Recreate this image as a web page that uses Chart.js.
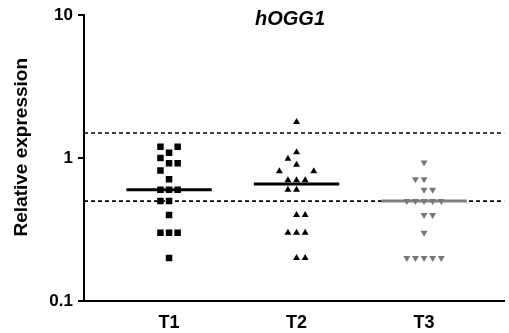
<!DOCTYPE html>
<html>
<head>
<meta charset="utf-8">
<script src="https://cdn.jsdelivr.net/npm/chart.js@4/dist/chart.umd.min.js"></script>
<style>
  html, body { margin: 0; padding: 0; background: #fff; }
  #wrap { width: 509px; height: 333px; position: relative; }
</style>
</head>
<body>
<div id="wrap"><canvas id="c" width="509" height="333"></canvas></div>
<script>
// ---- data ----
const chartTitle = "hOGG1";
const yTitle = "Relative expression";
const categories = ["T1", "T2", "T3"];
const yTicks = [0.1, 1, 10];
const yTickLabels = ["0.1", "1", "10"];

const t1Values = [1.2, 1.2, 1.09, 1.0, 0.92, 0.92, 0.82, 0.71, 0.6, 0.6, 0.6, 0.5, 0.5, 0.4, 0.3, 0.3, 0.3, 0.2];
const t1Slots  = [-1, 1, 0, -1, 0, 1, -1, 0, -1, 0, 1, -1, 0, 0, -1, 0, 1, 0];

const t2Values = [1.79, 1.1, 0.99, 0.9, 0.81, 0.81, 0.7, 0.7, 0.7, 0.6, 0.6, 0.4, 0.4, 0.3, 0.3, 0.3, 0.2, 0.2];
const t2Slots  = [0, 0, -1, 0, -2, 2, -1, 0, 1, -1, 0, 0, 1, -1, 0, 1, 0, 1];

const t3Values = [0.93, 0.71, 0.71, 0.6, 0.6, 0.5, 0.5, 0.5, 0.5, 0.5, 0.4, 0.4, 0.3, 0.2, 0.2, 0.2, 0.2, 0.2];
const t3Slots  = [0, -1, 0, 0, 1, -2, -1, 0, 1, 2, 0, 1, 0, -2, -1, 0, 1, 2];

const medians = [0.6, 0.66, 0.5];
const thresholds = [1.5, 0.5];

// ---- layout / style constants ----
const X_MIN = 0.333, X_MAX = 3.63;
const DODGE = 0.0675;
const MEDIAN_HALF = 0.335;
const FONT = "'Liberation Sans', Arial, Helvetica, sans-serif";

function pts(catIndex, values, slots) {
  return values.map((v, i) => ({ x: catIndex + 1 + slots[i] * DODGE, y: v }));
}
function medianLine(catIndex) {
  const c = catIndex + 1;
  return [{ x: c - MEDIAN_HALF, y: medians[catIndex] }, { x: c + MEDIAN_HALF, y: medians[catIndex] }];
}

const datasets = [];
thresholds.forEach(t => {
  datasets.push({
    type: 'line', data: [{ x: X_MIN, y: t }, { x: X_MAX, y: t }],
    borderColor: '#000', borderWidth: 1.6, borderDash: [4, 3], pointRadius: 0, order: 5
  });
});
const medColors = ['#000', '#000', '#808080'];
medians.forEach((m, i) => {
  datasets.push({
    type: 'line', data: medianLine(i),
    borderColor: medColors[i], borderWidth: 3, pointRadius: 0, order: 4
  });
});
datasets.push({
  type: 'scatter', label: categories[0], data: pts(0, t1Values, t1Slots),
  pointStyle: 'rect', pointRadius: 4.6, backgroundColor: '#000', borderWidth: 0, order: 1
});
datasets.push({
  type: 'scatter', label: categories[1], data: pts(1, t2Values, t2Slots),
  pointStyle: 'triangle', pointRadius: 4, backgroundColor: '#000', borderWidth: 0, order: 1
});
datasets.push({
  type: 'scatter', label: categories[2], data: pts(2, t3Values, t3Slots),
  pointStyle: 'triangle', rotation: 180, pointRadius: 4, backgroundColor: '#777', borderWidth: 0, order: 1
});

const textPlugin = {
  id: 'texts',
  afterDraw(chart) {
    const { ctx, chartArea } = chart;
    ctx.save();
    ctx.fillStyle = '#000';
    ctx.textAlign = 'center';
    ctx.textBaseline = 'middle';
    ctx.font = "italic bold 20px " + FONT;
    ctx.fillText(chartTitle, chartArea.left + 206, chartArea.top + 4);
    ctx.translate(chartArea.left - 62, chartArea.top + 132);
    ctx.rotate(-Math.PI / 2);
    ctx.font = "bold 19px " + FONT;
    ctx.fillText(yTitle, 0, 0);
    ctx.restore();
  }
};

new Chart(document.getElementById('c'), {
  type: 'scatter',
  data: { datasets },
  plugins: [textPlugin],
  options: {
    responsive: false,
    animation: false,
    events: [],
    layout: { padding: { top: 15, left: 0, right: 0, bottom: 0 } },
    plugins: { legend: { display: false }, tooltip: { enabled: false }, title: { display: false } },
    scales: {
      x: {
        type: 'linear', min: X_MIN, max: X_MAX,
        afterBuildTicks: s => { s.ticks = categories.map((c, i) => ({ value: i + 1 })); },
        afterFit: s => { s.height = 32; },
        grid: { display: false, drawTicks: false },
        border: { display: true, color: '#000', width: 2 },
        ticks: {
          padding: 11, color: '#000', autoSkip: false, maxRotation: 0,
          font: { family: FONT, size: 18, weight: 'bold' },
          callback: v => categories[Math.round(v) - 1]
        }
      },
      y: {
        type: 'logarithmic', min: 0.1, max: 10,
        afterBuildTicks: s => { s.ticks = yTicks.map(v => ({ value: v })); },
        afterFit: s => { s.width = 84; },
        grid: { display: true, drawOnChartArea: false, drawTicks: true, tickLength: 6, color: '#000', lineWidth: 2 },
        border: { display: true, color: '#000', width: 2 },
        ticks: {
          padding: 5, color: '#000', autoSkip: false,
          font: { family: FONT, size: 17, weight: 'bold' },
          callback: (v) => { const i = yTicks.indexOf(v); return i >= 0 ? yTickLabels[i] : ''; }
        }
      }
    }
  }
});
</script>
</body>
</html>
